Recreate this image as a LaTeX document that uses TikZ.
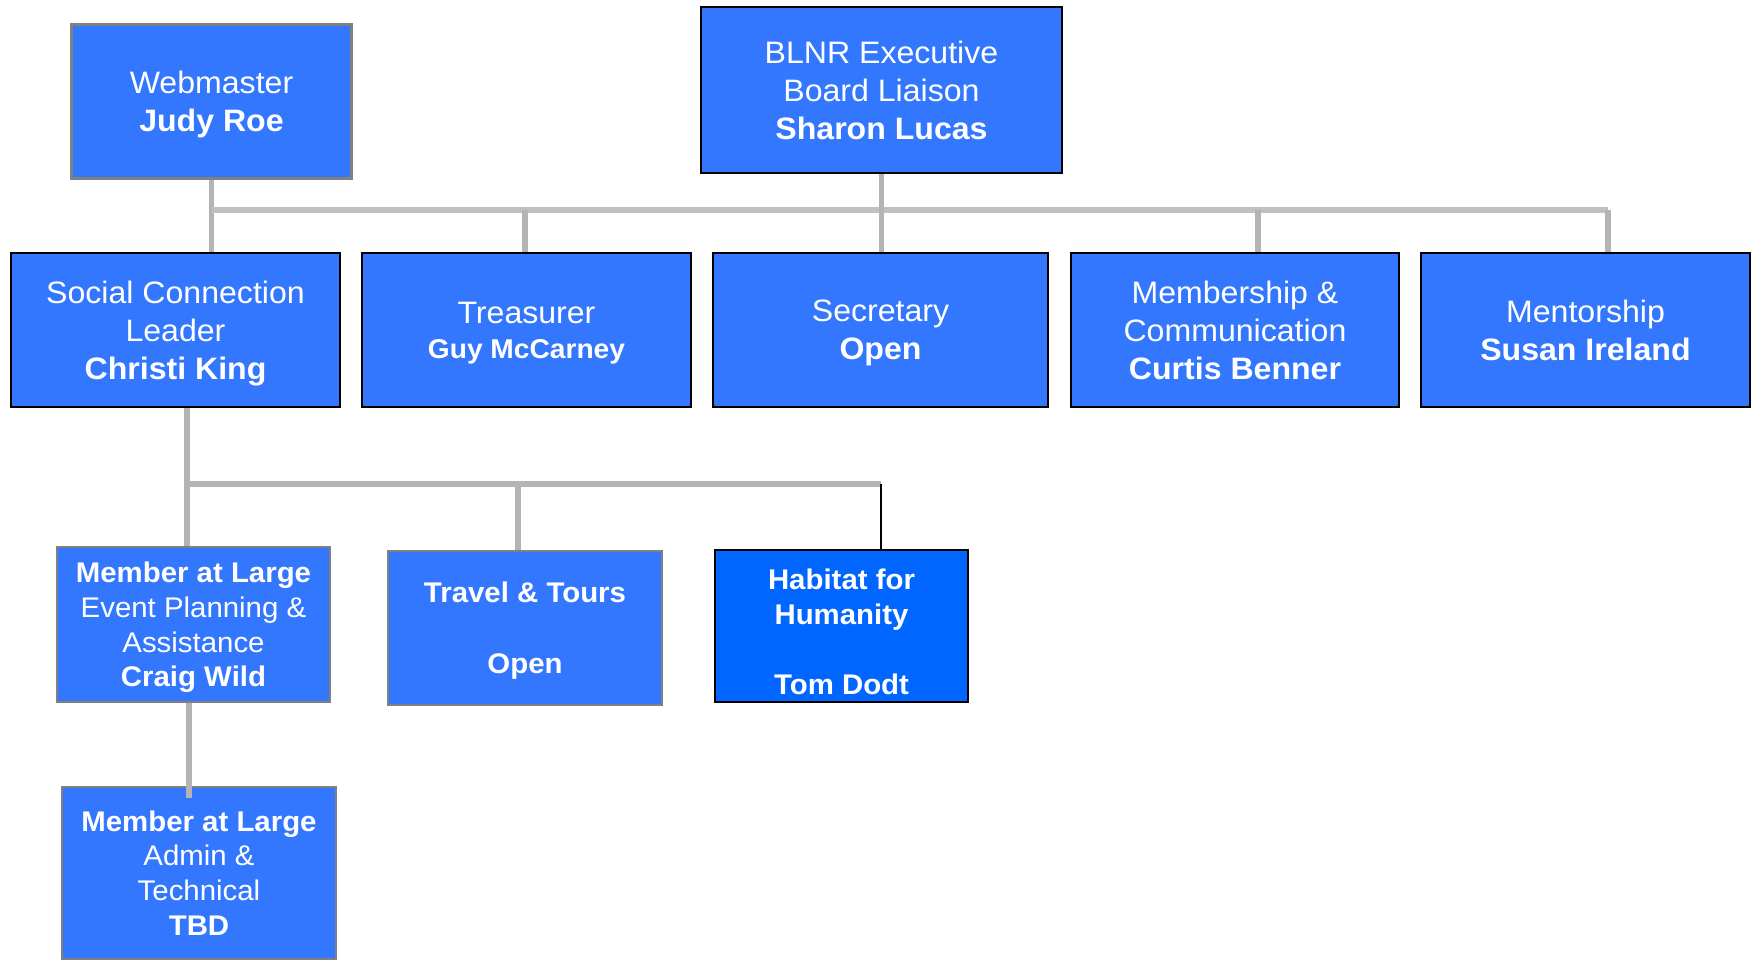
\documentclass[tikz,border=0pt]{standalone}
\usepackage{fontspec}
\setmainfont{Liberation Sans}[FakeStretch=1.035]
\definecolor{boxblue}{RGB}{51,119,255}
\definecolor{boxdeep}{RGB}{0,102,255}
\definecolor{edgegray}{RGB}{128,128,128}
\definecolor{busgray}{RGB}{192,192,192}
\definecolor{dropgray}{RGB}{180,180,180}
\begin{document}
\begin{tikzpicture}[x=0.5pt,y=-0.5pt,
  box/.style={rectangle, fill=boxblue, text=white, align=center, inner sep=0pt,
    text depth=0pt, line width=1pt},
  blackbox/.style={box, draw=black},
  graybox/.style={box, draw=edgegray, line width=1.3pt},
  bigtext/.style={font=\fontsize{15.5pt}{19pt}\selectfont},
  smalltext/.style={font=\fontsize{14.2pt}{17.4pt}\selectfont},
  busline/.style={draw=busgray, line width=2.6pt},
  dropline/.style={draw=dropgray, line width=2.8pt},
  blackline/.style={draw=black, line width=1pt}]
\useasboundingbox (0,0) rectangle (1752,961);

% top row
\node[graybox, bigtext, minimum width=140pt, minimum height=77pt] (web) at (211.5,101.5)
  {Webmaster\\\textbf{Judy Roe}};
\node[blackbox, bigtext, minimum width=180.5pt, minimum height=83pt] (blnr) at (881.5,90)
  {BLNR Executive\\Board Liaison\\\textbf{Sharon Lucas}};

% second row
\node[blackbox, bigtext, minimum width=164.5pt, minimum height=77pt] (social) at (175.5,330)
  {Social Connection\\Leader\\\textbf{Christi King}};
\node[blackbox, bigtext, minimum width=164.5pt, minimum height=77pt] (treas) at (526.5,330)
  {Treasurer\\[-1.5pt]{\bfseries\fontsize{13.6pt}{17.5pt}\selectfont Guy McCarney}};
\node[blackbox, bigtext, minimum width=167.5pt, minimum height=77pt] (secr) at (880.5,330)
  {Secretary\\\textbf{Open}};
\node[blackbox, bigtext, minimum width=164pt, minimum height=77pt] (memb) at (1235,330)
  {Membership \&\\Communication\\\textbf{Curtis Benner}};
\node[blackbox, bigtext, minimum width=164.5pt, minimum height=77pt] (ment) at (1585.5,330)
  {Mentorship\\\textbf{Susan Ireland}};

% third row
\node[graybox, smalltext, minimum width=136.5pt, minimum height=77.5pt] (mal1) at (193.5,624.5)
  {\textbf{Member at Large}\\Event Planning \&\\Assistance\\\textbf{Craig Wild}};
\node[graybox, smalltext, minimum width=137pt, minimum height=77pt] (travel) at (525,628)
  {\textbf{Travel \& Tours}\\[18pt]\textbf{Open}};
\node[blackbox, smalltext, fill=boxdeep, minimum width=126.5pt, minimum height=76pt] (habitat) at (841.5,626)
  {\rule{0pt}{16pt}\textbf{Habitat for}\\\textbf{Humanity}\\[17.4pt]\textbf{Tom Dodt}};

% fourth row
\node[graybox, smalltext, minimum width=137pt, minimum height=86pt] (mal2) at (199,873)
  {\textbf{Member at Large}\\Admin \&\\Technical\\\textbf{TBD}};

% connector points
\coordinate (bus1L) at (211.5,210);
\coordinate (bus1R) at (1608,210);
\coordinate (membtap) at (1258,210);
\coordinate (treastap) at (525,210);
\coordinate (bus2L) at (187,484);
\coordinate (bus2R) at (881,484);
\coordinate (travtap) at (518,484);
\coordinate (maltap) at (189,798);

% connectors
\draw[dropline] (web.south) -- (web.south |- social.north);
\draw[busline] (bus1L) -- (bus1R);
\draw[dropline] (treastap) -- (treastap |- treas.north);
\draw[dropline] (blnr.south) -- (blnr.south |- secr.north);
\draw[dropline] (membtap) -- (membtap |- memb.north);
\draw[dropline] (bus1R) -- (bus1R |- ment.north);

\draw[dropline] (bus2L |- social.south) -- (bus2L |- mal1.north);
\draw[dropline] (bus2L) -- (bus2R);
\draw[dropline] (travtap) -- (travtap |- travel.north);
\draw[blackline] (bus2R) -- (bus2R |- habitat.north);
\draw[dropline] (maltap |- mal1.south) -- (maltap);
\end{tikzpicture}
\end{document}
